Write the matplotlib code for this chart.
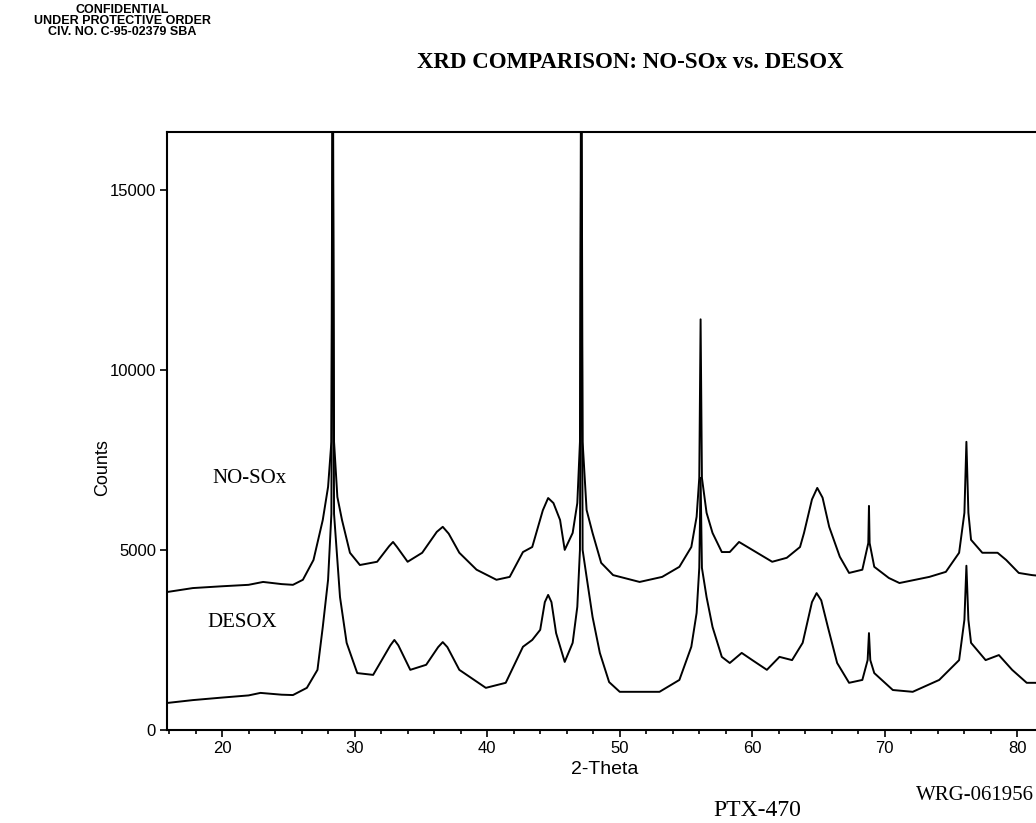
import matplotlib
matplotlib.use("Agg")
import matplotlib.pyplot as plt
from matplotlib.ticker import MultipleLocator

# (2-theta, counts)
nosox_tt = [15.85, 17.8, 20.0, 22.0, 23.1, 24.5, 25.35, 26.1, 26.9, 27.6, 28.0, 28.25, 28.35, 28.45,
            28.7, 29.05, 29.65, 30.4, 31.7, 32.6, 32.9, 33.2, 34.0, 35.1, 36.2, 36.65, 37.1,
            37.9, 39.2, 40.7, 41.7, 42.7, 43.4, 44.2, 44.6, 45.0, 45.5, 45.85, 46.45, 46.8,
            47.0, 47.1, 47.2, 47.5, 47.95, 48.6, 49.5, 51.5, 53.2, 54.5, 55.4, 55.8, 56.0,
            56.1, 56.2, 56.55, 57.0, 57.7, 58.3, 59.0, 60.0, 61.5, 62.6, 63.6, 63.9, 64.5,
            64.9, 65.3, 65.8, 66.6, 67.3, 68.3, 68.75, 68.8, 68.85, 69.2, 70.3, 71.1, 73.35,
            74.6, 75.6, 76.0, 76.15, 76.3, 76.5, 77.35, 78.5, 79.15, 80.1, 81.1, 82.5]
nosox_ct = [3830, 3940, 3990, 4030, 4110, 4050, 4030, 4170, 4720, 5830, 6750, 8000, 21000, 8000,
            6470, 5830, 4920, 4580, 4670, 5100, 5220, 5080, 4670, 4920, 5500, 5640, 5450,
            4920, 4450, 4170, 4250, 4940, 5080, 6100, 6440, 6300, 5830, 5000, 5470, 6300,
            8000, 21000, 8000, 6110, 5470, 4640, 4300, 4110, 4250, 4530, 5080, 5920, 7000,
            11400, 7000, 6030, 5470, 4940, 4940, 5220, 5000, 4670, 4780, 5080, 5470, 6400,
            6720, 6450, 5640, 4810, 4360, 4450, 5190, 6220, 5190, 4530, 4220, 4080, 4250,
            4390, 4920, 6030, 8000, 6030, 5280, 4920, 4920, 4720, 4360, 4300, 4250]

desox_tt = [15.85, 17.8, 20.0, 22.0, 22.9, 24.5, 25.35, 26.4, 27.2, 27.6, 28.0, 28.25, 28.35, 28.45,
            28.9, 29.4, 30.2, 31.4, 32.7, 33.0, 33.3, 34.2, 35.4, 36.3, 36.65, 37.0, 37.9,
            39.9, 41.4, 42.7, 43.4, 44.0, 44.35, 44.6, 44.85, 45.2, 45.85, 46.45, 46.8, 47.0,
            47.1, 47.2, 47.5, 47.95, 48.5, 49.2, 50.0, 53.0, 54.5, 55.4, 55.8, 56.0, 56.1,
            56.2, 56.55, 57.0, 57.7, 58.3, 59.2, 60.0, 61.1, 62.05, 63.0, 63.8, 64.5, 64.85,
            65.2, 65.7, 66.4, 67.3, 68.3, 68.7, 68.8, 68.9, 69.2, 70.6, 72.1, 74.1, 75.6,
            76.0, 76.15, 76.3, 76.5, 77.6, 78.6, 79.6, 80.7, 81.3, 82.5]
desox_ct = [750, 830, 900, 960, 1030, 980, 970, 1170, 1670, 2860, 4170, 6000, 18000, 6000,
            3690, 2420, 1580, 1530, 2350, 2500, 2350, 1670, 1810, 2300, 2440, 2300, 1670,
            1170, 1310, 2310, 2500, 2780, 3550, 3750, 3550, 2690, 1890, 2420, 3420, 5000,
            18000, 5000, 4250, 3140, 2140, 1330, 1060, 1060, 1390, 2310, 3250, 4500, 7000,
            4500, 3690, 2860, 2030, 1860, 2140, 1940, 1670, 2030, 1940, 2420, 3550, 3800,
            3600, 2860, 1860, 1310, 1390, 1940, 2690, 1940, 1580, 1110, 1060, 1390, 1940,
            3060, 4560, 3060, 2420, 1940, 2080, 1670, 1310, 1310, 1300]

sans = ['Liberation Sans Narrow', 'Liberation Sans', 'DejaVu Sans']
serif = ['Liberation Serif', 'DejaVu Serif']

fig = plt.figure(figsize=(10.36, 8.23), dpi=100)
# the scanned page cuts the plot off at the right edge
ax = fig.add_axes([0.1612, 0.113, 0.8388, 0.7266])

ax.plot(nosox_tt, nosox_ct, color='black', lw=1.4)
ax.plot(desox_tt, desox_ct, color='black', lw=1.4)

ax.set_xlim(15.85, 81.4)
ax.set_ylim(0, 16600)
ax.xaxis.set_major_locator(MultipleLocator(10))
ax.xaxis.set_minor_locator(MultipleLocator(2))
ax.yaxis.set_major_locator(MultipleLocator(5000))
ax.tick_params(axis='both', which='major', direction='out', length=5, width=1.2,
               labelsize=12, pad=3)
ax.tick_params(axis='x', which='minor', direction='out', length=3, width=1.2)
for lab in ax.get_xticklabels() + ax.get_yticklabels():
    lab.set_family(sans)
for s in ax.spines.values():
    s.set_linewidth(1.5)
ax.spines['right'].set_visible(False)

ax.text(0.052, 0.421, 'NO-SOx', transform=ax.transAxes, family=serif,
        fontsize=15, va='center')
ax.text(0.047, 0.179, 'DESOX', transform=ax.transAxes, family=serif,
        fontsize=15, va='center')

fig.text(103 / 1036, 1 - 468 / 823, 'Counts', rotation=90, family=sans,
         fontsize=13, ha='center', va='center')
fig.text(605 / 1036, 1 - 770 / 823, '2-Theta', family=sans, fontsize=14,
         ha='center', va='center')

fig.text(630 / 1036, 1 - 63 / 823, 'XRD COMPARISON: NO-SOx vs. DESOX', family=serif,
         fontweight='bold', fontsize=16.5, ha='center', va='center')

fig.text(122 / 1036, 1 - 21 / 823, 'CONFIDENTIAL\nUNDER PROTECTIVE ORDER\nCIV. NO. C-95-02379 SBA',
         family=sans, fontsize=9, fontweight='bold', ha='center', va='center',
         linespacing=0.85)

fig.text(1034 / 1036, 1 - 795 / 823, 'WRG-061956', family=serif, fontsize=15,
         ha='right', va='center')
fig.text(757 / 1036, 1 - 811 / 823, 'PTX-470', family=serif, fontsize=17,
         ha='center', va='center')

fig.savefig('out.png', dpi=100, facecolor='white')
